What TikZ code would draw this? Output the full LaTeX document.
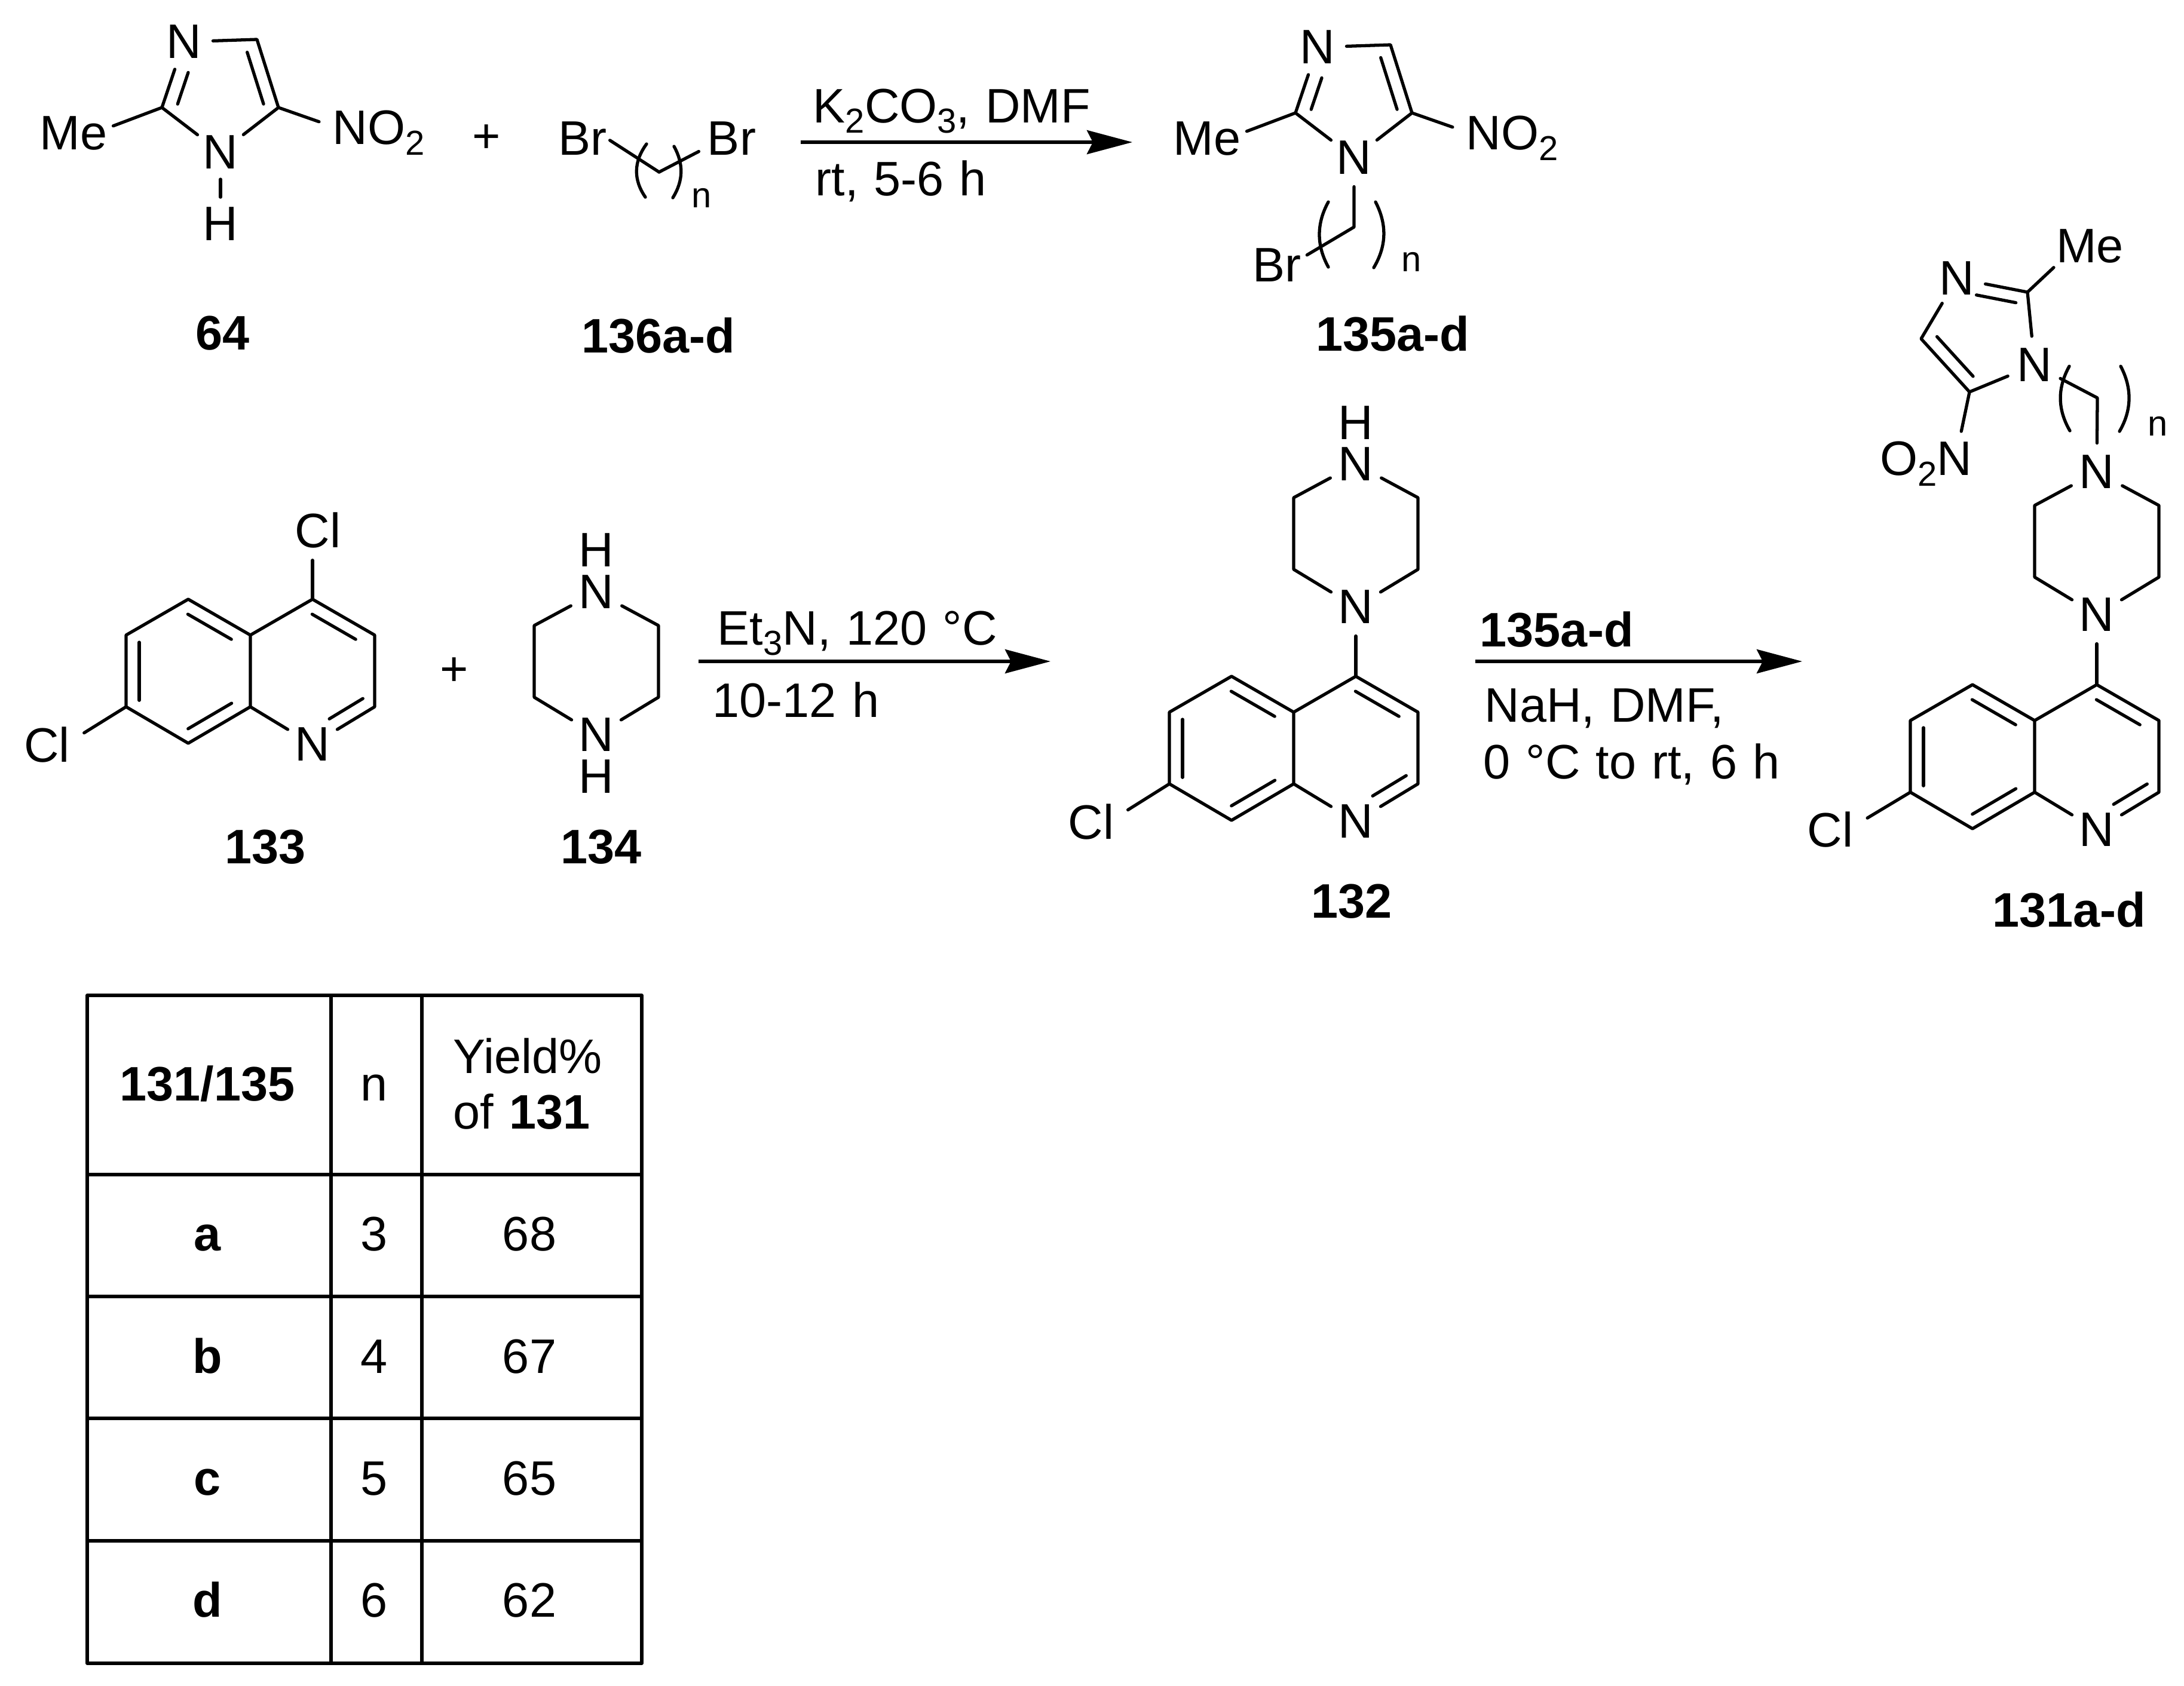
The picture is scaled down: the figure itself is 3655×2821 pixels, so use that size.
\documentclass[tikz,border=0pt]{standalone}
\usepackage{fontspec}
\setmainfont{Liberation Sans}
\usetikzlibrary{arrows.meta,calc}
\newcommand{\chemsize}{\fontsize{23.05}{28}\selectfont\spaceskip=7.4pt}
\newcommand{\subnum}[1]{\raisebox{-5pt}{\fontsize{16.5}{18}\selectfont #1}}
\tikzset{
	bond/.style={line width=1.5pt,line cap=round,line join=round},
	rxnarrow/.style={line width=1.5pt,-{Stealth[length=0.76cm,width=0.4cm,inset=0.1cm]}},
	atom/.style={circle,inner sep=1.5pt},
	cmpd/.style={font=\chemsize\bfseries,inner sep=0pt},
	reagent/.style={anchor=base west,inner sep=0pt},
	cell/.style={anchor=base,inner sep=0pt},
	subn/.style={font=\fontsize{17}{20}\selectfont,inner sep=0pt}
}
\newcommand{\innerbond}[5]{\draw[bond] ($(#1)!#3!(#2)!#5!90:(#2)$) -- ($(#2)!#4!(#1)!#5!-90:(#1)$);}
\newcommand{\quinoline}[3]{
	\begin{scope}[shift={(#2,#3)}]
		\coordinate (#1c4) at (0,0);
		\coordinate (#1c3) at (104,60);
		\coordinate (#1c2) at (104,180);
		\coordinate (#1c8a) at (-104,180);
		\coordinate (#1c4a) at (-104,60);
		\coordinate (#1c5) at (-208,0);
		\coordinate (#1c6) at (-312,60);
		\coordinate (#1c7) at (-312,180);
		\coordinate (#1c8) at (-208,241);
		\node[atom] (#1n) at (0,243) {N};
		\draw[bond] (#1c4a)--(#1c5)--(#1c6)--(#1c7)--(#1c8)--(#1c8a)--cycle;
		\draw[bond] (#1c4a)--(#1c4)--(#1c3)--(#1c2)--(#1n)--(#1c8a);
		\innerbond{#1c5}{#1c4a}{.1}{.2}{-.22cm}
		\innerbond{#1c6}{#1c7}{.1}{.09}{.22cm}
		\innerbond{#1c8}{#1c8a}{.1}{.2}{.21cm}
		\innerbond{#1c4}{#1c3}{.1}{.2}{-.22cm}
		\innerbond{#1c2}{#1n}{.08}{.38}{-.22cm}
	\end{scope}
}
\newcommand{\piperazine}[3]{
	\begin{scope}[shift={(#2,#3)}]
		\node[atom] (#1na) at (0,0) {N};
		\node[atom] (#1nb) at (0,239) {N};
		\coordinate (#1ca) at (-104,56);
		\coordinate (#1cb) at (-104,176);
		\coordinate (#1cc) at (104,56);
		\coordinate (#1cd) at (104,176);
		\draw[bond] (#1na)--(#1ca)--(#1cb)--(#1nb)--(#1cd)--(#1cc)--(#1na);
	\end{scope}
}
\newcommand{\imidazole}[3]{
	\begin{scope}[shift={(#2,#3)}]
		\node[atom] (#1nc) at (308,70) {N};
		\node[atom] (#1na) at (369,255) {N};
		\coordinate (#1cb) at (271,180);
		\coordinate (#1cd) at (430,66);
		\coordinate (#1ce) at (466,180);
		\node[atom,outer sep=-2.5pt] (#1me) at (157,223) {\llap{M}e\vphantom{M}};
		\node[atom] (#1no) at (586,222) {N\rlap{O\subnum{2}}};
		\draw[bond] (#1na)--(#1cb)--(#1nc)--(#1cd)--(#1ce)--(#1na);
		\draw[bond] (#1cb)--(#1me);
		\draw[bond] (#1ce)--(#1no);
		\innerbond{#1ce}{#1cd}{.11}{.13}{.22cm}
		\innerbond{#1cb}{#1nc}{.12}{.4}{-.23cm}
	\end{scope}
}
\begin{document}
\begin{tikzpicture}[x=0.01cm,y=-0.01cm,font=\chemsize]
	\useasboundingbox (0,0) rectangle (3655,2821);
	\imidazole{i}{0}{0}
	\node[atom] (ih) at (369,375) {H};
	\draw[bond,shorten <=-1pt,shorten >=-1pt] (ina)--(ih);
	\node (plusa) at (814,232) {+};
	\node[inner sep=0pt] (brl) at (975,232) {Br};
	\node[atom] (brr) at (1211,232) {B\rlap{r}};
	\coordinate (ca) at (1103,288);
	\draw[bond,shorten >=1.5pt] (ca)--(brl.east);
	\draw[bond] (ca)--(brr);
	\draw[bond] (1082,241) .. controls (1060,271) and (1060,301) .. (1080,330);
	\draw[bond] (1128,245) .. controls (1144,274) and (1144,302) .. (1126,331);
	\node[subn] (na) at (1174,331) {n};
	\node[cmpd] (la) at (373,558) {64};
	\node[cmpd] (lb) at (1102,562) {136a-d};
	\coordinate (arsa) at (1340,238);
	\coordinate (area) at (1895,238);
	\draw[rxnarrow] (arsa)--(area);
	\node[reagent] (ra) at (1360,205) {K\subnum{2}CO\subnum{3}, DMF};
	\node[reagent] (rb) at (1364,327) {rt, 5-6 h};
	\imidazole{j}{1897}{9}
	\node[inner sep=0pt] (brb) at (2137,444) {Br};
	\coordinate (cb) at (2266,380);
	\draw[bond,shorten >=3pt] (jna)--(cb)--(brb.16);
	\draw[bond] (2223,338) .. controls (2203,374) and (2203,411) .. (2223,447);
	\draw[bond] (2302,338) .. controls (2321,375) and (2321,411) .. (2299,448);
	\node[subn] (nb) at (2362,438) {n};
	\node[cmpd] (lc) at (2331,559) {135a-d};
	\quinoline{q}{523}{1003}
	\node[atom] (qcl) at (523,888) {C\rlap{l}};
	\node[atom] (qcm) at (108,1247) {\llap{C}l};
	\draw[bond] (qc4)--(qcl);
	\draw[bond] (qc7)--(qcm);
	\node[cmpd] (ld) at (444,1418) {133};
	\node (plusb) at (760,1124) {+};
	\piperazine{p}{998}{991}
	\node[atom] (pha) at (998,921) {H};
	\node[atom] (phb) at (998,1300) {H};
	\node[cmpd] (le) at (1006,1418) {134};
	\coordinate (arsb) at (1169,1107);
	\coordinate (areb) at (1758,1107);
	\draw[rxnarrow] (arsb)--(areb);
	\node[reagent] (rc) at (1200,1079) {Et\subnum{3}N, 120 °C};
	\node[reagent] (rd) at (1192,1200) {10-12 h};
	\quinoline{r}{2269}{1132}
	\piperazine{s}{2269}{777}
	\node[atom] (sh) at (2269,708) {H};
	\draw[bond] (snb)--(rc4);
	\node[atom] (rcm) at (1855,1376) {\llap{C}l};
	\draw[bond] (rc7)--(rcm);
	\node[cmpd] (lf) at (2262,1509) {132};
	\coordinate (arsc) at (2469,1107);
	\coordinate (arec) at (3016,1107);
	\draw[rxnarrow] (arsc)--(arec);
	\node[reagent,font=\chemsize\bfseries] (re) at (2476,1082) {135a-d};
	\node[reagent] (rf) at (2484,1208) {NaH, DMF,};
	\node[reagent] (rg) at (2482,1303) {0 °C to rt, 6 h};
	\quinoline{t}{3509}{1146}
	\piperazine{u}{3509}{790}
	\draw[bond] (unb)--(tc4);
	\node[atom] (tcm) at (3092,1389) {\llap{C}l};
	\draw[bond] (tc7)--(tcm);
	\node[cmpd] (lg) at (3463,1523) {131a-d};
	\node[atom] (vme) at (3475,412) {M\rlap{e}};
	\node[atom] (vnc) at (3275,466) {N};
	\node[atom] (vna) at (3405,611) {N};
	\node[atom] (vno) at (3271,776) {\llap{O\subnum{2}}N};
	\coordinate (vcb) at (3393,489);
	\coordinate (vcd) at (3215,567);
	\coordinate (vce) at (3296,656);
	\coordinate (vcf) at (3510,666);
	\draw[bond] (vna)--(vcb)--(vnc)--(vcd)--(vce)--(vna);
	\draw[bond] (vcb)--(vme);
	\draw[bond] (vce)--(vno);
	\draw[bond] (vna)--(vcf)--(una);
	\innerbond{vcb}{vnc}{.13}{.31}{.21cm}
	\innerbond{vce}{vcd}{.127}{.127}{-.22cm}
	\draw[bond] (3463,613) .. controls (3443,649) and (3443,685) .. (3464,721);
	\draw[bond] (3549,613) .. controls (3568,649) and (3568,686) .. (3547,722);
	\node[subn] (nc) at (3611,713) {n};
	\draw[bond] (146,1666) rectangle (1074,2784);
	\draw[bond] (554,1666)--(554,2784);
	\draw[bond] (706,1666)--(706,2784);
	\foreach \yline in {1966,2170,2374,2579}
		\draw[bond] (146,\yline)--(1074,\yline);
	\node[cell,font=\chemsize\bfseries] (ha) at (347,1842) {131/135};
	\node[cell] (hb) at (626,1842) {n};
	\node[reagent] (hc) at (758,1796) {Yield\%};
	\node[reagent] (hd) at (758,1889) {of \textbf{131}};
	\foreach \ybase/\lab/\num/\yld in {2093/a/3/68,2298/b/4/67,2502/c/5/65,2706/d/6/62}{
		\node[cell,font=\chemsize\bfseries] (cl\lab) at (347,\ybase) {\lab};
		\node[cell] (cn\lab) at (626,\ybase) {\num};
		\node[cell] (cy\lab) at (886,\ybase) {\yld};
	}
\end{tikzpicture}
\end{document}
